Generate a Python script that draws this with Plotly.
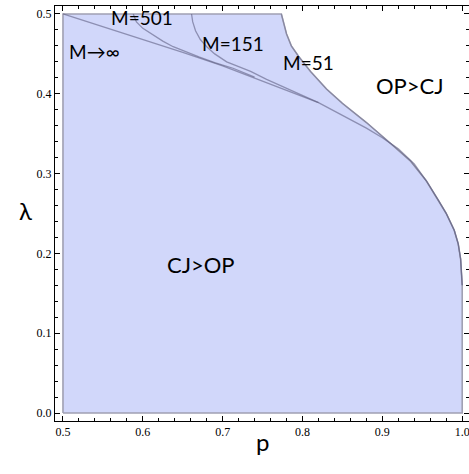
import plotly.graph_objects as go

# ---- data ----
# M -> infinity boundary curve
p_inf = [0.5, 0.55, 0.6, 0.65, 0.7, 0.75, 0.8, 0.82, 0.85, 0.88, 0.9, 0.92, 0.94,
         0.955, 0.97, 0.98, 0.99, 0.995, 0.998, 1.0]
lam_inf = [0.5, 0.484, 0.468, 0.452, 0.435, 0.416, 0.397, 0.389, 0.373, 0.357, 0.345,
           0.331, 0.312, 0.291, 0.267, 0.250, 0.229, 0.212, 0.193, 0.160]

# M = 501 boundary curve
p_501 = [0.588, 0.592, 0.600, 0.609, 0.625, 0.638, 0.655, 0.671, 0.690, 0.713, 0.740]
lam_501 = [0.5, 0.490, 0.482, 0.476, 0.466, 0.459, 0.452, 0.446, 0.439, 0.432, 0.421]

# M = 151 boundary curve
p_151 = [0.661, 0.6625, 0.666, 0.672, 0.680, 0.690, 0.705, 0.720, 0.735, 0.755, 0.780, 0.800, 0.820]
lam_151 = [0.5, 0.490, 0.479, 0.468, 0.459, 0.450, 0.440, 0.434, 0.428, 0.418, 0.407, 0.398, 0.389]

# M = 51 boundary curve (outer edge of the shaded region)
p_51 = [0.7735, 0.776, 0.780, 0.786, 0.795, 0.810, 0.830, 0.850, 0.880, 0.910, 0.935,
        0.955, 0.97, 0.98, 0.99, 0.995, 0.998, 1.0, 1.0]
lam_51 = [0.5, 0.490, 0.475, 0.460, 0.447, 0.428, 0.406, 0.388, 0.364, 0.338, 0.316,
          0.291, 0.267, 0.250, 0.229, 0.212, 0.193, 0.160, 0.0]

# region corners
p_min, p_max = 0.5, 1.0
lam_min, lam_max = 0.0, 0.5

x_ticks = [0.5, 0.6, 0.7, 0.8, 0.9, 1.0]
x_tick_labels = ["0.5", "0.6", "0.7", "0.8", "0.9", "1.0"]
y_ticks = [0.0, 0.1, 0.2, 0.3, 0.4, 0.5]
y_tick_labels = ["0.0", "0.1", "0.2", "0.3", "0.4", "0.5"]

labels = [
    ("M=501", 0.5995, 0.4955),
    ("M\u2192\u221e", 0.5397, 0.4526),
    ("M=151", 0.7135, 0.4630),
    ("M=51", 0.8077, 0.4397),
    ("OP>CJ", 0.9342, 0.4110),
    ("CJ>OP", 0.6725, 0.1857),
]

FILL = "rgb(209,215,250)"
LINE = "rgba(95,95,130,0.6)"
EDGE = "rgb(160,160,178)"

fig = go.Figure()

# shaded region (CJ > OP for M = 51)
fx = [p_min, p_min] + p_51 + [p_min]
fy = [lam_min, lam_max] + lam_51 + [lam_min]
fig.add_trace(go.Scatter(x=fx, y=fy, mode="lines", fill="toself", fillcolor=FILL,
                         line=dict(color=EDGE, width=1.6), hoverinfo="skip",
                         showlegend=False))
# outer M=51 curved edge drawn a bit darker
fig.add_trace(go.Scatter(x=p_51[:-1], y=lam_51[:-1], mode="lines",
                         line=dict(color="rgba(120,120,150,0.6)", width=1.2),
                         showlegend=False, hoverinfo="skip"))

for px, py in [(p_inf, lam_inf), (p_501, lam_501), (p_151, lam_151)]:
    fig.add_trace(go.Scatter(x=px, y=py, mode="lines",
                             line=dict(color=LINE, width=1.3),
                             showlegend=False, hoverinfo="skip"))

for text, x, y in labels:
    fig.add_annotation(x=x, y=y, xref="x", yref="y", text=text, showarrow=False,
                       font=dict(family="Lato, Liberation Sans, sans-serif",
                                 size=22 if ">" in text else 19, color="black"))

fig.add_annotation(x=-0.092, y=0.508, xref="paper", yref="paper", text="\u03bb",
                   showarrow=False, font=dict(family="Lato, sans-serif", size=24, color="black"))
fig.add_annotation(x=0.502, y=-0.089, xref="paper", yref="paper", text="p",
                   showarrow=False, font=dict(family="Lato, sans-serif", size=24, color="black"))

axis_common = dict(
    showgrid=False, zeroline=False, showline=True, linecolor="black", linewidth=1,
    mirror="allticks", ticks="inside", ticklen=5, tickcolor="black", tickwidth=1,
    tickfont=dict(family="Liberation Serif, serif", size=12, color="black"),
    automargin=False, ticklabeloverflow="allow",
)

fig.update_xaxes(range=[0.49, 1.0085], tickvals=x_ticks, ticktext=x_tick_labels,
                 minor=dict(ticks="inside", ticklen=3, dtick=0.02, tickcolor="black"),
                 **axis_common)
fig.update_yaxes(range=[-0.01, 0.51], tickvals=y_ticks, ticktext=y_tick_labels,
                 minor=dict(ticks="inside", ticklen=3, dtick=0.02, tickcolor="black"),
                 **axis_common)

fig.update_layout(width=469, height=474, margin=dict(l=55, r=0, t=6, b=53, autoexpand=False),
                  plot_bgcolor="white", paper_bgcolor="white")

# remove the browser's default 8px page margin so the figure sits at the window corner
fig.write_html("out.html", config={"displayModeBar": False},
               post_script="document.body.style.margin='0px';")
